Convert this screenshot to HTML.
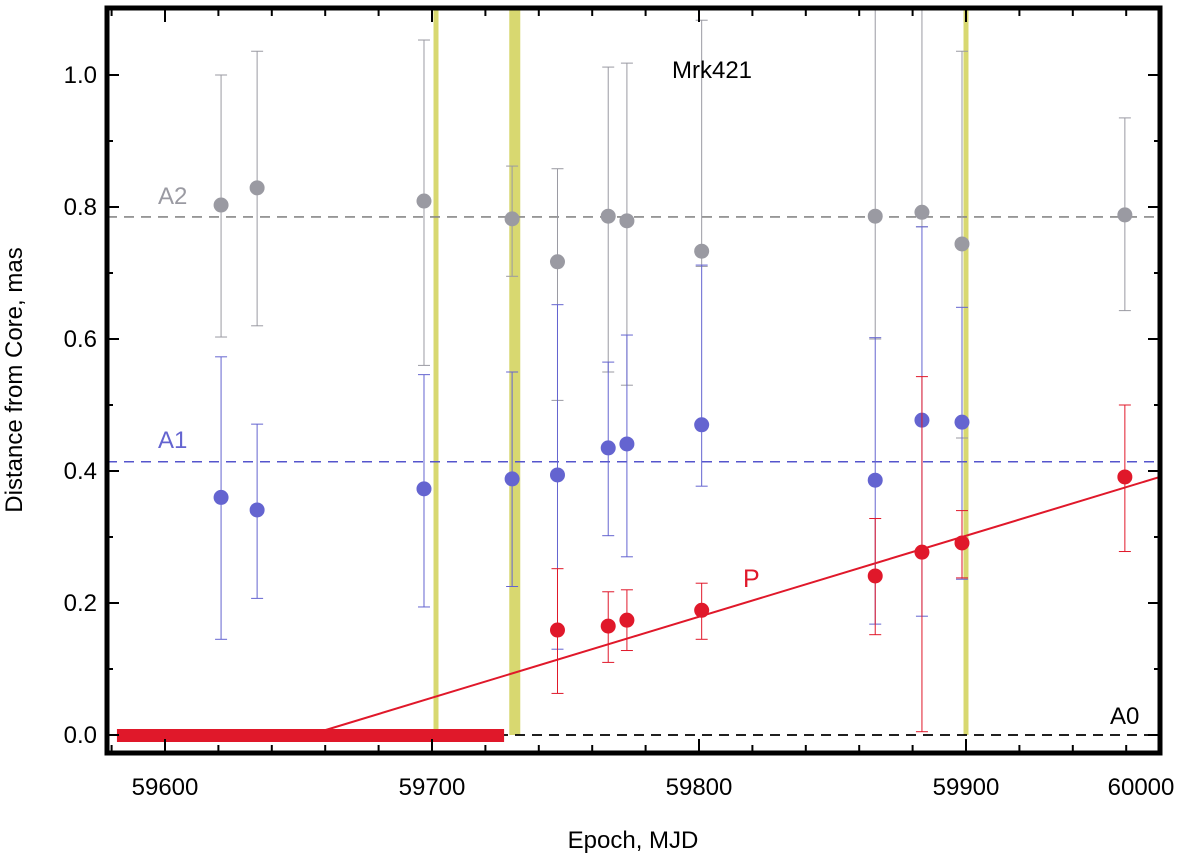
<!DOCTYPE html>
<html><head><meta charset="utf-8"><style>
body{margin:0;background:#fff;}
svg text{font-family:"Liberation Sans",sans-serif;}
</style></head><body>
<svg id="chart" width="1200" height="859" xmlns="http://www.w3.org/2000/svg"></svg>
<script>
const xTicks=[59600,59700,59800,59900,60000];
const yTicks=[0.0,0.2,0.4,0.6,0.8,1.0];
const yTickLabels=["0.0","0.2","0.4","0.6","0.8","1.0"];
const epochs=[59621,59634.5,59697,59730,59747,59766,59773,59801,59866,59883.5,59898.5,59959.5];
const a2=[0.803,0.829,0.809,0.782,0.717,0.786,0.779,0.733,0.786,0.792,0.744,0.788];
const a2Hi=[1.0,1.036,1.053,0.862,0.858,1.012,1.018,1.083,1.12,1.12,1.036,0.935];
const a2Lo=[0.603,0.62,0.56,0.695,0.507,0.55,0.53,0.71,0.60,0.77,0.45,0.643];
const a1Epochs=[59621,59634.5,59697,59730,59747,59766,59773,59801,59866,59883.5,59898.5];
const a1=[0.36,0.341,0.373,0.388,0.394,0.435,0.441,0.47,0.386,0.477,0.474];
const a1Hi=[0.573,0.471,0.546,0.55,0.652,0.565,0.606,0.712,0.602,0.77,0.648];
const a1Lo=[0.145,0.207,0.194,0.225,0.13,0.302,0.27,0.377,0.168,0.18,0.236];
const pEpochs=[59747,59766,59773,59801,59866,59883.5,59898.5,59959.5];
const p=[0.159,0.165,0.174,0.189,0.241,0.277,0.291,0.391];
const pHi=[0.252,0.217,0.22,0.23,0.328,0.543,0.34,0.5];
const pLo=[0.063,0.11,0.128,0.145,0.152,0.005,0.238,0.278];
const fitLine=[[59654,0],[59972.6,0.391]];
const bands=[[59700.5,59702.5,5],[59730,59732,11],[59899,59901,5]];
const quietPeriod=[59582,59727];

const L=107,R=1160,T=8,B=753;
const X=v=>165+(v-59600)*2.67;
const Y=v=>735-v*660;
const svg=document.getElementById('chart');
const NS='http://www.w3.org/2000/svg';
function mk(tag,attrs,name,parent){const e=document.createElementNS(NS,tag);for(const k in attrs)e.setAttribute(k,attrs[k]);


(parent||svg).appendChild(e);return e;}
function txt(x,y,s,attrs,name){const e=mk('text',Object.assign({x:x,y:y},attrs),name);e.textContent=s;return e;}

bands.forEach((b,i)=>{const cx=X((b[0]+b[1])/2);mk('rect',{x:cx-b[2]/2,y:T,width:b[2],height:735-T,fill:'#d8d870'},'flare-band-'+i);});
mk('line',{x1:L,x2:R,y1:Y(0.785),y2:Y(0.785),stroke:'#888',"stroke-width":1.6,"stroke-dasharray":"10,7"},'a2-mean-line');
mk('line',{x1:L,x2:R,y1:Y(0.414),y2:Y(0.414),stroke:'#5555cc',"stroke-width":1.6,"stroke-dasharray":"10,7"},'a1-mean-line');
mk('line',{x1:L,x2:R,y1:Y(0),y2:Y(0),stroke:'#000',"stroke-width":1.8,"stroke-dasharray":"10,7"},'a0-line');
mk('rect',{x:X(quietPeriod[0]),y:Y(0)-6,width:X(quietPeriod[1])-X(quietPeriod[0]),height:13,fill:'#e0182a'},'quiet-period-bar');
mk('line',{x1:X(fitLine[0][0]),y1:Y(fitLine[0][1]),x2:X(fitLine[1][0]),y2:Y(fitLine[1][1]),stroke:'#e0182a',"stroke-width":2},'p-fit-line');
function series(ep,v,hi,lo,col,name){ep.forEach((e,i)=>{const x=X(e);
mk('line',{x1:x,x2:x,y1:Math.max(Y(hi[i]),T),y2:Y(lo[i]),stroke:col,"stroke-width":1},name+'-errorbar-'+i);
if(Y(hi[i])>T)mk('line',{x1:x-6,x2:x+6,y1:Y(hi[i]),y2:Y(hi[i]),stroke:col,"stroke-width":1},name+'-cap-hi-'+i);
mk('line',{x1:x-6,x2:x+6,y1:Y(lo[i]),y2:Y(lo[i]),stroke:col,"stroke-width":1},name+'-cap-lo-'+i);
mk('circle',{cx:x,cy:Y(v[i]),r:7.5,fill:col},name+'-point-'+i);});}
series(epochs,a2,a2Hi,a2Lo,'#9a9aa2','a2');
series(a1Epochs,a1,a1Hi,a1Lo,'#6464d0','a1');
series(pEpochs,p,pHi,pLo,'#e0182a','p');
mk('rect',{x:L,y:T,width:R-L,height:B-T,fill:'none',stroke:'#000',"stroke-width":5},'plot-frame');
for(let k=0;k<=10;k++){const v=k/10,y=Y(v),len=k%2==0?12:6;
mk('line',{x1:L,x2:L+len,y1:y,y2:y,stroke:'#000',"stroke-width":2},'y-tick-left');
mk('line',{x1:R,x2:R-len,y1:y,y2:y,stroke:'#000',"stroke-width":2},'y-tick-right');}
yTicks.forEach((v,i)=>txt(97,Y(v)+8,yTickLabels[i],{"text-anchor":"end","font-size":24},'y-tick-label'));
for(let m=59580;m<=60000;m+=20){const x=X(m);if(x<L||x>R)continue;const len=m%100==0?14:8;
mk('line',{x1:x,x2:x,y1:B,y2:B-len,stroke:'#000',"stroke-width":2},'x-tick-bottom');
mk('line',{x1:x,x2:x,y1:T,y2:T+len,stroke:'#000',"stroke-width":2},'x-tick-top');}
xTicks.forEach(v=>{const x=Math.min(X(v),1141);txt(x,795,String(v),{"text-anchor":"middle","font-size":24},'x-tick-label');});
txt(633,848,'Epoch, MJD',{"text-anchor":"middle","font-size":24},'x-axis-title');
txt(0,0,'Distance from Core, mas',{"text-anchor":"middle","font-size":24,transform:'translate(22,380) rotate(-90)'},'y-axis-title');
txt(712,78,'Mrk421',{"text-anchor":"middle","font-size":24},'source-label');
txt(158,204,'A2',{"font-size":24,fill:'#9a9aa2'},'a2-label');
txt(158,448,'A1',{"font-size":24,fill:'#6464d0'},'a1-label');
txt(743,587,'P',{"font-size":25,fill:'#e0182a'},'p-label');
txt(1110,724,'A0',{"font-size":24},'a0-label');
</script>
</body></html>
